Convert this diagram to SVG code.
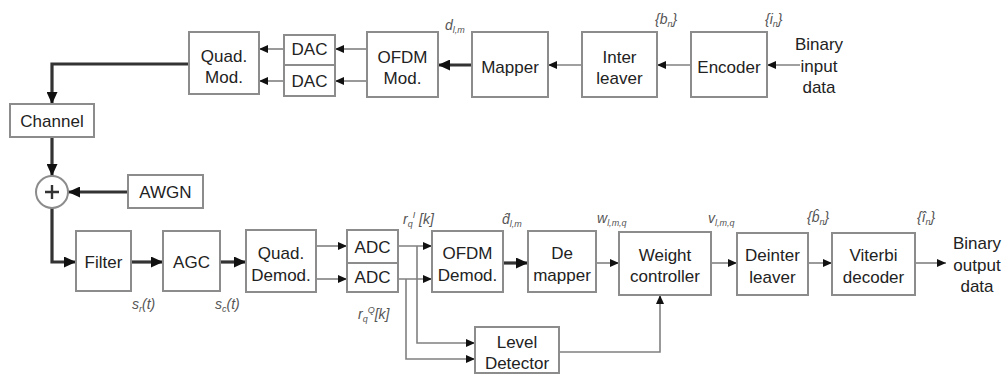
<svg xmlns="http://www.w3.org/2000/svg" width="1005" height="380" viewBox="0 0 1005 380">
<style>
.box{fill:#fff;stroke:#8c8c8c;stroke-width:2}
.t{font-family:"Liberation Sans",Arial,sans-serif;font-size:17px;fill:#222;text-anchor:middle}
.lb{font-family:"Liberation Sans",Arial,sans-serif;font-size:14px;font-style:italic;fill:#555}
.sb{font-size:9px}
.thin{fill:none;stroke:#808080;stroke-width:1.6}
.thick{fill:none;stroke:#333;stroke-width:3.2}
</style>
<defs>
<marker id="a" markerWidth="9" markerHeight="8" refX="9" refY="4" orient="auto" markerUnits="userSpaceOnUse"><path d="M0,0 L9,4 L0,8 z" fill="#111"/></marker>
<marker id="A" markerWidth="12" markerHeight="11" refX="12" refY="5.5" orient="auto" markerUnits="userSpaceOnUse"><path d="M0,0 L12,5.5 L0,11 z" fill="#111"/></marker>
</defs>
<rect width="1005" height="380" fill="#fff"/>
<g id="connectors">
<path class="thin" d="M284,49 H259" marker-end="url(#a)"/>
<path class="thin" d="M284,81 H259" marker-end="url(#a)"/>
<path class="thin" d="M367,49 H335" marker-end="url(#a)"/>
<path class="thin" d="M367,81 H335" marker-end="url(#a)"/>
<path class="thin" d="M582,65 H548" marker-end="url(#a)"/>
<path class="thin" d="M691,65 H657" marker-end="url(#a)"/>
<path class="thin" d="M800,65 H767" marker-end="url(#a)"/>
<path class="thick" d="M472,65 H438" marker-end="url(#A)"/>
<path class="thick" d="M189,64 H52 V104" marker-end="url(#A)"/>
<path class="thick" d="M52,137 V176" marker-end="url(#A)"/>
<path class="thick" d="M128,192 H68" marker-end="url(#A)"/>
<path class="thick" d="M52,208 V262 H76" marker-end="url(#A)"/>
<path class="thick" d="M131,262 H163" marker-end="url(#A)"/>
<path class="thick" d="M220,262 H246" marker-end="url(#A)"/>
<path class="thin" d="M316,246 H347" marker-end="url(#a)"/>
<path class="thin" d="M316,279 H347" marker-end="url(#a)"/>
<path class="thin" d="M398,246 H432" marker-end="url(#a)"/>
<path class="thin" d="M398,279 H432" marker-end="url(#a)"/>
<path class="thin" d="M417,246 V343 H475" marker-end="url(#a)"/>
<path class="thin" d="M406,279 V359 H475" marker-end="url(#a)"/>
<path class="thick" d="M503,263 H528" marker-end="url(#A)"/>
<path class="thin" d="M596,263 H619" marker-end="url(#a)"/>
<path class="thin" d="M559,352 H660 V295" marker-end="url(#a)"/>
<path class="thin" d="M711,263 H737" marker-end="url(#a)"/>
<path class="thin" d="M808,263 H832" marker-end="url(#a)"/>
<path class="thin" d="M915,263 H946" marker-end="url(#a)"/>
</g>
<g id="quadmod"><rect class="box" x="189" y="32" width="70" height="62"/><text class="t" x="224" y="62">Quad.</text><text class="t" x="224" y="83">Mod.</text></g>
<g id="dac1"><rect class="box" x="284" y="35" width="51" height="30"/><text class="t" x="309.5" y="55">DAC</text></g>
<g id="dac2"><rect class="box" x="284" y="65" width="51" height="31"/><text class="t" x="309.5" y="87">DAC</text></g>
<g id="ofdmmod"><rect class="box" x="367" y="32" width="71" height="65"/><text class="t" x="402.5" y="63">OFDM</text><text class="t" x="402.5" y="84">Mod.</text></g>
<g id="mapper"><rect class="box" x="472" y="32" width="76" height="65"/><text class="t" x="510" y="73">Mapper</text></g>
<g id="interleaver"><rect class="box" x="582" y="32" width="75" height="65"/><text class="t" x="619.5" y="63">Inter</text><text class="t" x="619.5" y="84">leaver</text></g>
<g id="encoder"><rect class="box" x="691" y="32" width="76" height="65"/><text class="t" x="729" y="73">Encoder</text></g>
<g id="binaryin"><text class="t" x="819" y="50">Binary</text><text class="t" x="819" y="72">input</text><text class="t" x="819" y="93">data</text></g>
<g id="channel"><rect class="box" x="10" y="104" width="84" height="33"/><text class="t" x="52" y="127">Channel</text></g>
<g id="sum"><circle cx="52" cy="192" r="16" fill="#fff" stroke="#8c8c8c" stroke-width="2"/><path d="M45,192 H59 M52,185 V199" stroke="#333" stroke-width="2.4"/></g>
<g id="awgn"><rect class="box" x="128" y="175" width="75" height="33"/><text class="t" x="165.5" y="198">AWGN</text></g>
<g id="filter"><rect class="box" x="76" y="231" width="55" height="60"/><text class="t" x="103.5" y="268">Filter</text></g>
<g id="agc"><rect class="box" x="163" y="231" width="57" height="60"/><text class="t" x="191.5" y="268">AGC</text></g>
<g id="quaddemod"><rect class="box" x="246" y="230" width="70" height="62"/><text class="t" x="281" y="259">Quad.</text><text class="t" x="281" y="281">Demod.</text></g>
<g id="adc1"><rect class="box" x="347" y="230" width="51" height="33"/><text class="t" x="372.5" y="253">ADC</text></g>
<g id="adc2"><rect class="box" x="347" y="263" width="51" height="29"/><text class="t" x="372.5" y="283">ADC</text></g>
<g id="ofdmdemod"><rect class="box" x="432" y="231" width="71" height="61"/><text class="t" x="467.5" y="259">OFDM</text><text class="t" x="467.5" y="281">Demod.</text></g>
<g id="demapper"><rect class="box" x="528" y="231" width="68" height="61"/><text class="t" x="562" y="259">De</text><text class="t" x="562" y="281">mapper</text></g>
<g id="weight"><rect class="box" x="619" y="232" width="92" height="63"/><text class="t" x="665" y="261">Weight</text><text class="t" x="665" y="282">controller</text></g>
<g id="deinter"><rect class="box" x="737" y="233" width="71" height="62"/><text class="t" x="772.5" y="261">Deinter</text><text class="t" x="772.5" y="283">leaver</text></g>
<g id="viterbi"><rect class="box" x="832" y="233" width="83" height="62"/><text class="t" x="873.5" y="261">Viterbi</text><text class="t" x="873.5" y="283">decoder</text></g>
<g id="binaryout"><text class="t" x="977" y="249">Binary</text><text class="t" x="977" y="271">output</text><text class="t" x="977" y="292">data</text></g>
<g id="level"><rect class="box" x="475" y="327" width="84" height="46"/><text class="t" x="517" y="348">Level</text><text class="t" x="517" y="369">Detector</text></g>
<g id="labels">
<text class="lb" x="445" y="30">d<tspan class="sb" dy="3">l,m</tspan></text>
<text class="lb" x="655" y="24">{b<tspan class="sb" dy="3">n</tspan><tspan dy="-3">}</tspan></text>
<text class="lb" x="765" y="24">{i<tspan class="sb" dy="3">n</tspan><tspan dy="-3">}</tspan></text>
<text class="lb" x="132" y="309">s<tspan class="sb" dy="3">r</tspan><tspan dy="-3">(t)</tspan></text>
<text class="lb" x="215" y="309">s<tspan class="sb" dy="3">c</tspan><tspan dy="-3">(t)</tspan></text>
<text class="lb" x="403" y="224">r<tspan class="sb" dy="3">q</tspan><tspan class="sb" dy="-9">I</tspan><tspan dy="6"> [k]</tspan></text>
<text class="lb" x="358" y="319">r<tspan class="sb" dy="3">q</tspan><tspan class="sb" dy="-9">Q</tspan><tspan dy="6">[k]</tspan></text>
<text class="lb" x="502" y="224">d̂<tspan class="sb" dy="3">l,m</tspan></text>
<text class="lb" x="597" y="223">w<tspan class="sb" dy="3">l,m,q</tspan></text>
<text class="lb" x="708" y="223">v<tspan class="sb" dy="3">l,m,q</tspan></text>
<text class="lb" x="807" y="222">{b̂<tspan class="sb" dy="3">n</tspan><tspan dy="-3">}</tspan></text>
<text class="lb" x="917" y="222">{î<tspan class="sb" dy="3">n</tspan><tspan dy="-3">}</tspan></text>
</g>
</svg>
